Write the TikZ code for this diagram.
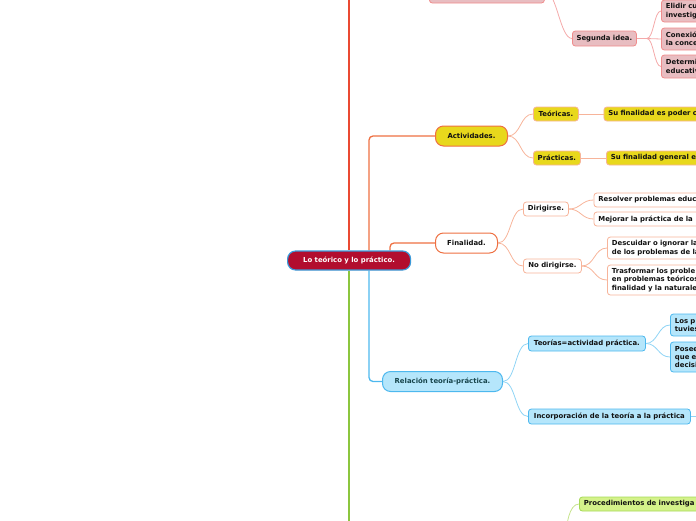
\documentclass[tikz,border=0pt]{standalone}
\usepackage{fontspec}
\setmainfont{DejaVu Sans}
\usetikzlibrary{backgrounds}
\definecolor{txt}{HTML}{111111}
\definecolor{rootfill}{HTML}{B20D2E}
\definecolor{rootdraw}{HTML}{3A9AD9}
\definecolor{redline}{HTML}{EA4A32}
\definecolor{orline}{HTML}{EE7042}
\definecolor{yelfill}{HTML}{E8D81C}
\definecolor{orlight}{HTML}{F7B49A}
\definecolor{pkfill}{HTML}{E8BDC1}
\definecolor{pkdraw}{HTML}{F08C8C}
\definecolor{pkline}{HTML}{F4A9A9}
\definecolor{blfill}{HTML}{B5E6FB}
\definecolor{bldraw}{HTML}{4DB8EE}
\definecolor{blline}{HTML}{8FD4F5}
\definecolor{bltxt}{HTML}{17454C}
\definecolor{grline}{HTML}{8CC63F}
\definecolor{grfill}{HTML}{D4F28A}
\definecolor{grdraw}{HTML}{A6D957}
\definecolor{grlight}{HTML}{C6E38C}
\begin{document}
\begin{tikzpicture}[x=1pt,y=-1pt,
  box/.style={draw, rounded corners=3pt, line width=0.8pt,
    font=\fontsize{6.9}{8.3}\selectfont\bfseries, text=txt,
    inner xsep=0pt, inner ysep=0pt, anchor=west, align=center},
  cut/.style={box, align=left, text width=130pt, inner xsep=4.5pt},
  pill/.style={box, rounded corners=8pt, line width=1pt},
  pk/.style={fill=pkfill, draw=pkdraw},
  ye/.style={fill=yelfill, draw=orlight},
  wh/.style={fill=white, draw=orlight},
  bl/.style={fill=blfill, draw=bldraw},
  gr/.style={fill=grfill, draw=grdraw},
  mainline/.style={line width=1.3pt},
  conn/.style={line width=0.8pt}
]
\useasboundingbox (0,0) rectangle (696,520);
\clip (0,0) rectangle (696,520);

% root
\node[pill, fill=rootfill, draw=rootdraw, line width=1.2pt, text=white,
  minimum width=123pt, minimum height=19pt] (root) at (287,260.5) {Lo teórico y lo práctico.};

% pink branch (top)
\node[box, pk, minimum width=115pt, minimum height=24pt] (p1) at (429,-9) {};
\node[box, pk, minimum width=64pt, minimum height=15pt] (seg) at (572,38.5) {Segunda idea.};
\node[cut, pk, minimum height=22pt] (e1) at (661,11) {Elidir cu\\investig};
\node[cut, pk, minimum height=22pt] (e2) at (661,39) {Conexió\\la conce};
\node[cut, pk, minimum height=23pt] (e3) at (661,66.5) {Determi\\educativ};

% Actividades
\node[pill, fill=yelfill, draw=orline, minimum width=72pt, minimum height=20pt] (act) at (435,136) {Actividades.};
\node[box, ye, minimum width=45pt, minimum height=14pt] (teo) at (533,114) {Teóricas.};
\node[box, ye, minimum width=47pt, minimum height=14pt] (pra) at (533,158) {Prácticas.};
\node[cut, ye, minimum height=14pt] (teoc) at (603.5,114) {Su finalidad es poder c};
\node[cut, ye, minimum height=14pt] (prac) at (606,158) {Su finalidad general e};

% Finalidad
\node[pill, fill=white, draw=orline, minimum width=62pt, minimum height=20pt] (fin) at (435,243) {Finalidad.};
\node[box, wh, minimum width=45pt, minimum height=14pt] (dir) at (523,209) {Dirigirse.};
\node[box, wh, minimum width=58pt, minimum height=14pt] (nodir) at (523,266) {No dirigirse.};
\node[cut, wh, minimum height=14pt] (r1) at (593.5,200) {Resolver problemas educ};
\node[cut, wh, minimum height=14pt] (r2) at (593.5,219) {Mejorar la práctica de la};
\node[cut, wh, minimum height=22pt] (d1) at (607,248) {Descuidar o ignorar la\\de los problemas de la};
\node[cut, wh, minimum height=30pt] (d2) at (607,280) {Trasformar los proble\\en problemas teóricos\\finalidad y la naturale};

% Relacion
\node[pill, fill=blfill, draw=bldraw, text=bltxt, minimum width=120pt, minimum height=20pt] (rel) at (382,381.5) {Relación teoría-práctica.};
\node[box, bl, minimum width=117pt, minimum height=15pt] (teor) at (528,343.5) {Teorías=actividad práctica.};
\node[box, bl, minimum width=162pt, minimum height=15pt] (inc) at (528,416.5) {Incorporación de la teoría a la práctica};
\node[cut, bl, minimum height=22pt] (lp) at (670,325) {Los p\\tuvies};
\node[cut, bl, minimum height=30pt] (po) at (670,357) {Posee\\que e\\decisi};

% green
\node[cut, gr, minimum height=14pt] (proc) at (579,504) {Procedimientos de investiga};

% helper coordinates
\coordinate (xa) at (369,0);
\coordinate (xb) at (390,0);
\coordinate (redtop) at (349,-10);
\coordinate (grbot) at (349,530);
\coordinate (incr) at (705,416.5);
\coordinate (procp) at (566,540);

\begin{scope}[on background layer]
  \draw[mainline, redline] (root.north -| redtop) -- (redtop);
  \draw[mainline, grline] (root.south -| grbot) -- (grbot);
  \draw[mainline, orline, rounded corners=4pt] (root.north -| xa) |- (act.west);
  \draw[mainline, orline, rounded corners=4pt] (root.north -| xb) |- (fin.west);
  \draw[mainline, bldraw, rounded corners=4pt] (root.south -| xa) |- (rel.west);

  % pink connectors
  \draw[conn, pkline] (p1.east) .. controls +(12,0) and +(-12,0) .. (seg.west);
  \draw[conn, pkline] (seg.east) -- ++(10,0) .. controls +(7,0) and +(-7,0) .. (e1.west);
  \draw[conn, pkline] (seg.east) -- ++(10,0) .. controls +(7,0) and +(-7,0) .. (e2.west);
  \draw[conn, pkline] (seg.east) -- ++(10,0) .. controls +(7,0) and +(-7,0) .. (e3.west);

  % actividades
  \draw[conn, orlight] (act.east) .. controls +(13,0) and +(-13,0) .. (teo.west);
  \draw[conn, orlight] (act.east) .. controls +(13,0) and +(-13,0) .. (pra.west);
  \draw[conn, orlight] (teo.east) -- (teoc.west);
  \draw[conn, orlight] (pra.east) -- (prac.west);

  % finalidad
  \draw[conn, orlight] (fin.east) .. controls +(13,0) and +(-13,0) .. (dir.west);
  \draw[conn, orlight] (fin.east) .. controls +(13,0) and +(-13,0) .. (nodir.west);
  \draw[conn, orlight] (dir.east) .. controls +(12,0) and +(-12,0) .. (r1.west);
  \draw[conn, orlight] (dir.east) .. controls +(12,0) and +(-12,0) .. (r2.west);
  \draw[conn, orlight] (nodir.east) .. controls +(13,0) and +(-13,0) .. (d1.west);
  \draw[conn, orlight] (nodir.east) .. controls +(13,0) and +(-13,0) .. (d2.west);

  % relacion
  \draw[conn, blline] (rel.east) .. controls +(13,0) and +(-13,0) .. (teor.west);
  \draw[conn, blline] (rel.east) .. controls +(13,0) and +(-13,0) .. (inc.west);
  \draw[conn, blline] (teor.east) .. controls +(12,0) and +(-12,0) .. (lp.west);
  \draw[conn, blline] (teor.east) .. controls +(12,0) and +(-12,0) .. (po.west);
  \draw[conn, blline] (inc.east) -- (incr);

  % green
  \draw[conn, grlight] (proc.west) .. controls +(-10,0) and +(0,-15) .. (procp);
\end{scope}
\end{tikzpicture}
\end{document}
